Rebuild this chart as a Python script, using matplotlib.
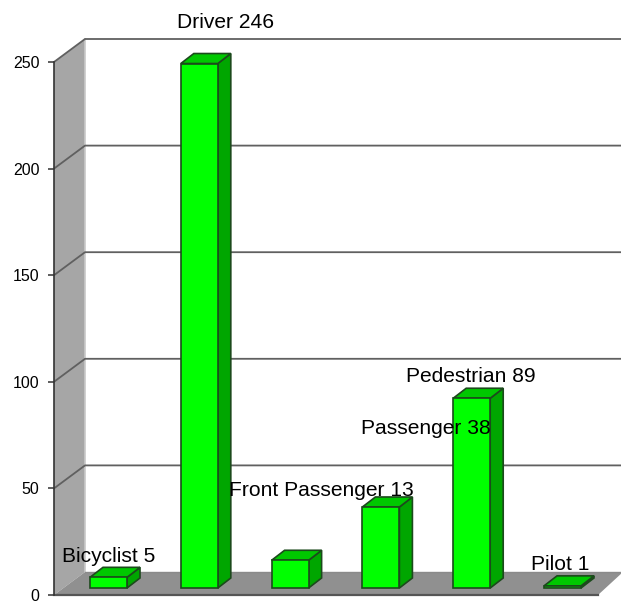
import matplotlib
matplotlib.use("Agg")
import matplotlib.pyplot as plt
from matplotlib.patches import Polygon

plt.rcParams['font.family'] = ['Liberation Sans', 'DejaVu Sans']

categories = ["Bicyclist", "Driver", "Front Passenger", "Passenger", "Pedestrian", "Pilot"]
values = [5, 246, 13, 38, 89, 1]
y_ticks = [0, 50, 100, 150, 200, 250]
label_px = [(108.5, 556), (225, 22), (321, 490), (426, 429), (470.5, 377), (560.5, 564)]

W, H = 621, 605
FX0, FY0 = 54, 595
PX_PER_UNIT = 2.132
BAR_STEP = 90.8
FIRST_CENTER = 108.5
fig = plt.figure(figsize=(W / 100, H / 100), dpi=100)
ax = fig.add_axes([FX0 / W, (H - FY0) / H, (W - FX0) / W, FY0 / H])
ax.set_xlim((FX0 - FIRST_CENTER) / BAR_STEP, (W - FIRST_CENTER) / BAR_STEP)
ax.set_ylim(0, FY0 / PX_PER_UNIT)
ax.patch.set_visible(False)

ux = 1 / BAR_STEP          # data units per pixel, horizontally
uy = 1 / PX_PER_UNIT       # data units per pixel, vertically
x_of = lambda px: (px - FIRST_CENTER) * ux
y_of = lambda py: (FY0 - py) * uy

def poly(pts, fc, ec='none', lw=0, z=2):
    ax.add_patch(Polygon(pts, closed=True, facecolor=fc, edgecolor=ec, linewidth=lw,
                         zorder=z, clip_on=False, joinstyle='miter'))

DX, DY = 31, 23
top = y_ticks[-1]
# side wall and floor
poly([(x_of(FX0), 0), (x_of(FX0 + DX), DY * uy), (x_of(FX0 + DX), top + DY * uy), (x_of(FX0), top)],
     '#a6a6a6', z=1)
poly([(x_of(FX0), 0), (x_of(FX0 + DX), DY * uy), (x_of(W + 2), DY * uy), (x_of(598), 0)],
     '#909090', z=1)
ax.plot([x_of(FX0 + DX)] * 2, [DY * uy, top + DY * uy], color='#c8c8c8', lw=1.2, zorder=1.5)
# grid lines
for t in y_ticks[1:]:
    ax.plot([x_of(FX0), x_of(FX0 + DX), x_of(W)], [t, t + DY * uy, t + DY * uy],
            color='#606060', lw=1.3, zorder=1.6, clip_on=False)
ax.plot([x_of(FX0 + DX), x_of(W)], [DY * uy, DY * uy], color='#8a8a8a', lw=1.0, zorder=1.6)

# bars
BW, BDX, BDY, BASE = 37, 13, 10, 7
EC = '#1c4a1c'
for i, v in enumerate(values):
    l, r = i - BW / 2 * ux, i + BW / 2 * ux
    b = BASE * uy
    t = b + v
    d, e = BDX * ux, BDY * uy
    poly([(r, b), (r + d, b + e), (r + d, t + e), (r, t)], '#00a600', EC, 1.2, 3)
    poly([(l, t), (r, t), (r + d, t + e), (l + d, t + e)], '#00c800', EC, 1.2, 3)
    poly([(l, b), (r, b), (r, t), (l, t)], '#00ff00', EC, 1.2, 3)

for name, v, (px, py) in zip(categories, values, label_px):
    ax.text(x_of(px), y_of(py), f"{name} {v}", ha='center', va='center',
            fontsize=15.1, color='black', zorder=5, clip_on=False)

for s in ['top', 'right', 'bottom']:
    ax.spines[s].set_visible(False)
ax.spines['left'].set_bounds(0, top)
ax.spines['left'].set_color('#333333')
ax.spines['left'].set_linewidth(1.2)
ax.plot([x_of(FX0), x_of(598)], [0, 0], color='#555555', lw=1.6, zorder=2, clip_on=False)
ax.set_xticks([])
ax.set_yticks(y_ticks)
ax.tick_params(axis='y', length=4, width=1.1, color='#333333', labelsize=11.5, pad=6.5)

fig.savefig("out.png", dpi=100)
